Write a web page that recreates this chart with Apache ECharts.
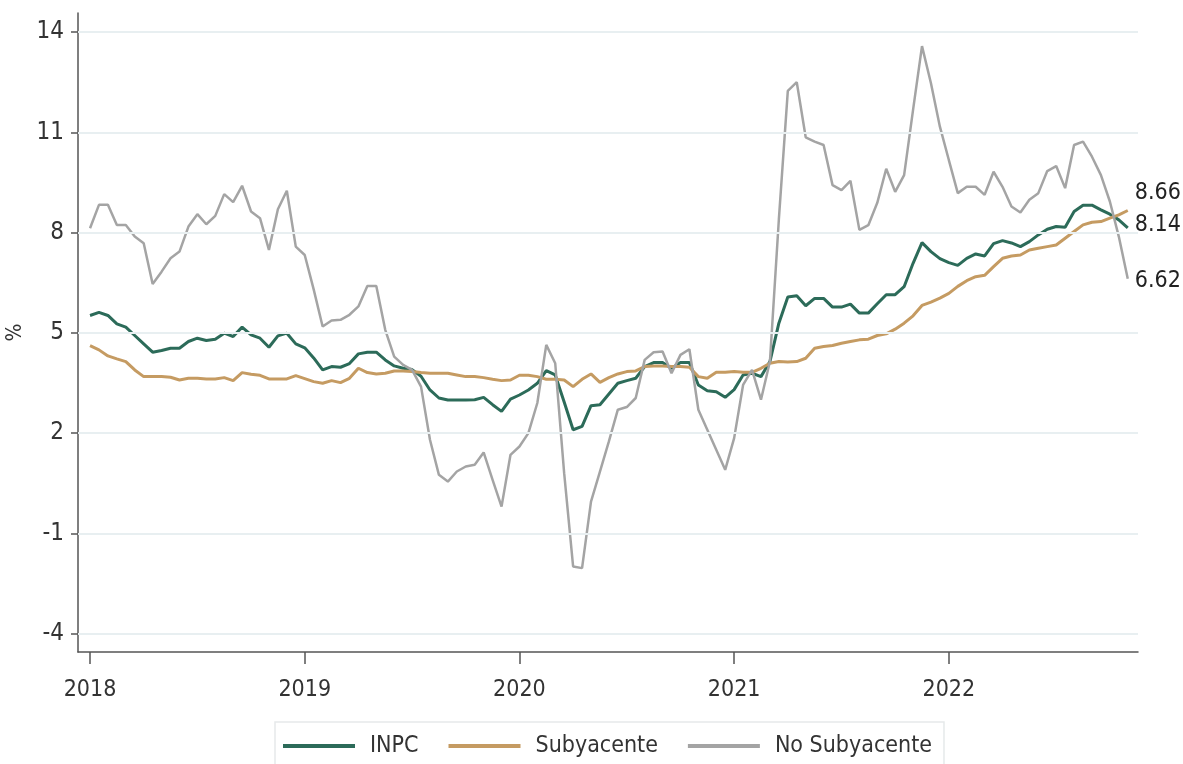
<!DOCTYPE html>
<html><head><meta charset="utf-8">
<script src="https://cdn.jsdelivr.net/npm/echarts@6/dist/echarts.min.js"></script>
<style>html,body{margin:0;padding:0;background:#fff}#c{width:1183px;height:764px}</style>
</head><body><div id="c"></div>
<script>
// Inflación anual quincenal, 1a quincena ene-2018 a 1a quincena nov-2022
const inpc = [
5.52,5.61,5.52,5.27,5.17,4.92,4.67,4.42,4.47,4.54,4.54,4.74,4.84,4.77,4.81,4.99,4.89,5.17,4.94,4.84,4.57,4.91,4.99,4.67,
4.55,4.25,3.89,3.99,3.97,4.08,4.37,4.42,4.42,4.19,4.01,3.94,3.90,3.70,3.29,3.05,2.99,2.99,2.99,3.00,3.07,2.85,2.65,3.02,
3.14,3.29,3.49,3.87,3.74,2.93,2.10,2.20,2.82,2.85,3.17,3.49,3.57,3.64,3.99,4.11,4.11,3.94,4.11,4.11,3.44,3.27,3.24,3.07,
3.30,3.74,3.79,3.69,4.14,5.29,6.07,6.11,5.81,6.03,6.03,5.77,5.77,5.86,5.59,5.59,5.87,6.14,6.14,6.38,7.08,7.70,7.43,7.22,
7.10,7.02,7.23,7.36,7.30,7.67,7.76,7.69,7.58,7.73,7.93,8.10,8.18,8.16,8.63,8.82,8.82,8.68,8.55,8.38,8.14];
const subyacente = [
4.62,4.49,4.31,4.22,4.14,3.89,3.69,3.69,3.69,3.67,3.59,3.64,3.64,3.62,3.62,3.66,3.57,3.81,3.76,3.73,3.62,3.62,3.62,3.72,
3.63,3.54,3.49,3.57,3.51,3.64,3.94,3.81,3.77,3.79,3.86,3.86,3.84,3.81,3.79,3.79,3.79,3.74,3.69,3.69,3.66,3.61,3.57,3.59,
3.73,3.73,3.69,3.61,3.61,3.59,3.39,3.61,3.77,3.52,3.66,3.77,3.84,3.86,3.99,4.01,4.01,3.99,3.99,3.97,3.69,3.64,3.82,3.82,
3.84,3.82,3.82,3.94,4.09,4.14,4.13,4.14,4.24,4.54,4.59,4.62,4.69,4.74,4.79,4.81,4.92,4.97,5.11,5.29,5.51,5.82,5.92,6.04,
6.18,6.39,6.56,6.68,6.72,6.98,7.23,7.30,7.33,7.48,7.53,7.58,7.63,7.83,8.03,8.23,8.31,8.33,8.43,8.53,8.66];
const noSubyacente = [
8.13,8.83,8.83,8.23,8.23,7.88,7.68,6.46,6.83,7.23,7.43,8.18,8.55,8.25,8.50,9.15,8.91,9.40,8.63,8.43,7.48,8.70,9.25,7.58,
7.33,6.30,5.19,5.37,5.39,5.54,5.79,6.40,6.40,5.09,4.29,4.04,3.89,3.39,1.80,0.75,0.55,0.85,1.00,1.05,1.42,0.60,-0.20,1.35,
1.60,2.00,2.90,4.64,4.09,0.80,-1.99,-2.04,-0.05,0.85,1.75,2.70,2.78,3.05,4.19,4.42,4.44,3.79,4.34,4.51,2.70,2.10,1.50,0.90,
1.85,3.44,3.89,3.00,4.14,8.40,12.24,12.50,10.85,10.72,10.62,9.42,9.27,9.55,8.08,8.22,8.89,9.91,9.22,9.72,11.67,13.58,12.47,11.17,
10.17,9.18,9.37,9.37,9.13,9.82,9.37,8.78,8.60,8.98,9.18,9.84,9.99,9.33,10.62,10.72,10.27,9.72,8.93,7.88,6.62];
const seriesNames = ['INPC','Subyacente','No Subyacente'];
const yearTicks = [2018,2019,2020,2021,2022];
const yTicks = [-4,-1,2,5,8,11,14];

// fortnight periods (year, month, fortnight)
const periods = [];
for (let y = 2018; periods.length < inpc.length; y++)
  for (let m = 1; m <= 12 && periods.length < inpc.length; m++)
    for (let q = 1; q <= 2 && periods.length < inpc.length; q++)
      periods.push({y, m, q});
const xOf = p => p.y + ((p.m - 1) * 2 + (p.q - 1)) / 24;
const toPairs = arr => periods.map((p, i) => [xOf(p), arr[i]]);

const FONT = "'DejaVu Sans Condensed','Noto Sans',sans-serif";
const chart = echarts.init(document.getElementById('c'), null, {renderer: 'canvas'});
const endLabel = (dy) => ({
  show: true, distance: 7, offset: [0, dy],
  fontFamily: FONT, fontSize: 23, color: '#222',
  formatter: p => p.value[1].toFixed(2)
});
chart.setOption({
  animation: false,
  backgroundColor: '#fff',
  grid: {left: 78, right: 45, top: 13, bottom: 112, containLabel: false, outerBoundsMode: 'none'},
  legend: {
    data: seriesNames,
    left: 275, top: 722,
    padding: [10, 12, 22, 8],
    borderColor: '#e6e9ea', borderWidth: 1.5,
    icon: 'rect',
    itemWidth: 72, itemHeight: 4, itemGap: 30,
    textStyle: {fontFamily: FONT, fontSize: 23, color: '#333', padding: [0, 0, 0, 10], lineHeight: 28}
  },
  xAxis: {
    type: 'value', min: 2017.944, max: 2022.881,
    axisLine: {show: true, onZero: false, lineStyle: {color: '#555', width: 1.5}},
    axisTick: {show: true, length: 12, customValues: yearTicks, lineStyle: {color: '#555', width: 1.5}},
    axisLabel: {customValues: yearTicks, formatter: v => String(Math.round(v)), margin: 27,
      fontFamily: FONT, fontSize: 23, color: '#333'},
    splitLine: {show: false}
  },
  yAxis: {
    type: 'value', min: -4.55, max: 14.57,
    name: '%', nameLocation: 'middle', nameGap: 46, nameRotate: 90,
    nameTextStyle: {fontFamily: FONT, fontSize: 21, color: '#333'},
    axisLine: {show: true, onZero: false, lineStyle: {color: '#555', width: 1.5}},
    axisTick: {show: true, length: 7, customValues: yTicks, lineStyle: {color: '#555', width: 1.5}},
    axisLabel: {customValues: yTicks, margin: 14, fontFamily: FONT, fontSize: 24, color: '#333'},
    splitLine: {show: false}
  },
  series: [
    {
      name: '_grid', type: 'line', data: [], silent: true, z: 0,
      markLine: {silent: true, symbol: 'none', label: {show: false}, animation: false,
        lineStyle: {color: '#e8eff1', width: 2, type: 'solid'},
        data: yTicks.map(v => ({yAxis: v}))}
    },
    {name: 'INPC', type: 'line', data: toPairs(inpc), symbol: 'none', showSymbol: false,
      lineStyle: {color: '#2c6b59', width: 3}, itemStyle: {color: '#2c6b59'}, endLabel: endLabel(-3), z: 3},
    {name: 'Subyacente', type: 'line', data: toPairs(subyacente), symbol: 'none', showSymbol: false,
      lineStyle: {color: '#c59b62', width: 3}, itemStyle: {color: '#c59b62'}, endLabel: endLabel(-17), z: 3},
    {name: 'No Subyacente', type: 'line', data: toPairs(noSubyacente), symbol: 'none', showSymbol: false,
      lineStyle: {color: '#a4a4a4', width: 2.5}, itemStyle: {color: '#a4a4a4'}, endLabel: endLabel(2), z: 3}
  ]
});
</script></body></html>
